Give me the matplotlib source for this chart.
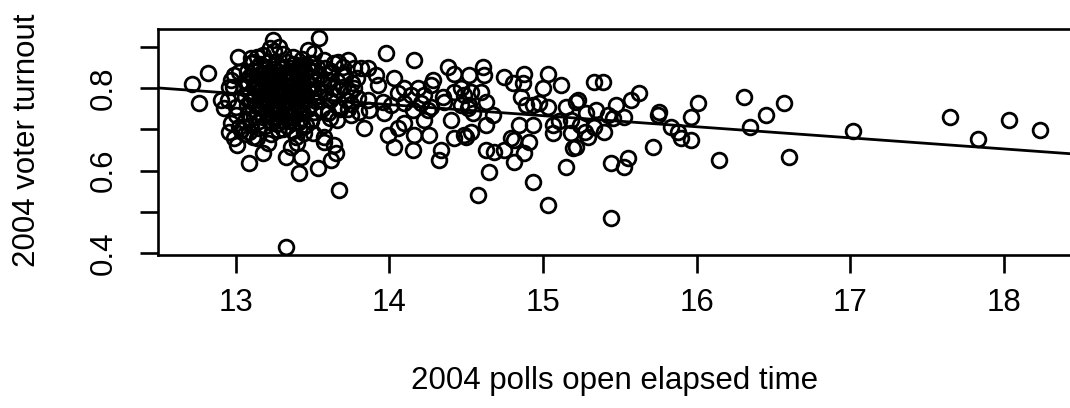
import matplotlib
matplotlib.use("Agg")
import numpy as np
import matplotlib.pyplot as plt

# precincts with polls open < 13.8 h (the dense early cluster)
elapsed_early = [
    12.816, 12.712, 12.762, 12.904, 12.925, 12.958, 12.958, 13.240, 13.012, 13.099,
    12.990, 12.979, 13.001, 13.023, 13.088, 12.990, 13.010, 13.088, 13.174, 13.327,
    13.327, 13.544, 13.467, 13.663, 13.728, 13.771, 13.693, 13.758, 13.750, 13.575,
    13.576, 13.446, 13.359, 13.424, 13.413, 13.533, 13.620, 13.652, 13.576, 13.674,
    13.283, 13.109, 13.511, 13.576, 13.641, 13.695, 12.969, 13.023, 12.947, 13.001,
    12.969, 13.034, 13.109, 13.207, 13.272, 13.392, 13.641, 13.674, 13.663, 13.598,
    13.62, 13.66, 13.70, 13.64, 13.72, 13.68, 13.61, 13.74, 13.71, 13.77,
    13.75, 13.66, 13.79, 13.73,
    13.15, 13.23, 13.31, 13.37, 13.44, 13.50, 13.14, 13.40, 13.06,
    13.18, 13.25, 13.31, 13.37, 13.43, 13.22, 13.14, 13.48,
    13.10, 13.16, 13.21, 13.27, 13.33, 13.38, 13.44, 13.50,
    13.13, 13.19, 13.24, 13.30, 13.36, 13.41, 13.47, 13.53, 13.58,
    13.07, 13.12, 13.17, 13.22, 13.28, 13.34, 13.39, 13.45, 13.51, 13.62,
    13.09, 13.15, 13.20, 13.26, 13.31, 13.37, 13.43, 13.48, 13.55,
    13.06, 13.11, 13.17, 13.23, 13.29, 13.35, 13.40, 13.46, 13.52, 13.60,
    13.08, 13.14, 13.19, 13.25, 13.32, 13.38, 13.44, 13.49, 13.57,
    13.05, 13.12, 13.17, 13.22, 13.28, 13.34, 13.41, 13.47, 13.53, 13.63,
    13.09, 13.15, 13.21, 13.26, 13.31, 13.37, 13.43, 13.50, 13.58,
    13.06, 13.12, 13.18, 13.24, 13.29, 13.35, 13.40, 13.46, 13.54,
    13.10, 13.16, 13.21, 13.27, 13.33, 13.39, 13.45, 13.52, 13.61,
    13.07, 13.13, 13.19, 13.25, 13.30, 13.36, 13.42, 13.48,
    13.11, 13.17, 13.23, 13.28, 13.34, 13.41, 13.47, 13.56,
    13.08, 13.14, 13.20, 13.26, 13.32, 13.38, 13.44, 13.51,
    13.12, 13.18, 13.24, 13.30, 13.36, 13.43,
    13.06, 13.15, 13.22, 13.29, 13.35, 13.41, 13.49,
    13.10, 13.19, 13.27, 13.33, 13.46,
    13.13, 13.20, 13.26, 13.32, 13.39, 13.45, 13.18, 13.29, 13.35, 13.24,
    13.41, 13.16, 13.31, 13.22, 13.37, 13.27, 13.12, 13.43, 13.33, 13.21,
]
turnout_early = [
    0.836, 0.809, 0.764, 0.771, 0.751, 0.803, 0.694, 0.916, 0.874, 0.872,
    0.831, 0.803, 0.735, 0.706, 0.694, 0.678, 0.662, 0.618, 0.642, 0.416,
    0.634, 0.922, 0.892, 0.864, 0.868, 0.848, 0.831, 0.812, 0.735, 0.711,
    0.682, 0.690, 0.658, 0.634, 0.594, 0.606, 0.626, 0.642, 0.670, 0.553,
    0.900, 0.864, 0.884, 0.868, 0.860, 0.852, 0.819, 0.839, 0.771, 0.755,
    0.715, 0.698, 0.682, 0.666, 0.698, 0.682, 0.662, 0.795, 0.755, 0.739,
    0.842, 0.818, 0.803, 0.781, 0.772, 0.748, 0.728, 0.789, 0.829, 0.801,
    0.762, 0.722, 0.823, 0.748,
    0.703, 0.689, 0.702, 0.697, 0.706, 0.692, 0.679, 0.668, 0.688,
    0.880, 0.889, 0.882, 0.876, 0.870, 0.897, 0.874, 0.861,
    0.861, 0.858, 0.863, 0.857, 0.862, 0.859, 0.856, 0.860,
    0.849, 0.852, 0.847, 0.851, 0.848, 0.853, 0.846, 0.850, 0.849,
    0.838, 0.841, 0.836, 0.842, 0.839, 0.837, 0.843, 0.838, 0.840, 0.836,
    0.829, 0.832, 0.827, 0.831, 0.828, 0.833, 0.829, 0.826, 0.830,
    0.818, 0.821, 0.819, 0.822, 0.817, 0.820, 0.823, 0.818, 0.821, 0.819,
    0.811, 0.808, 0.812, 0.809, 0.807, 0.810, 0.813, 0.808, 0.811,
    0.799, 0.802, 0.797, 0.801, 0.798, 0.803, 0.799, 0.796, 0.800, 0.801,
    0.789, 0.792, 0.788, 0.791, 0.787, 0.790, 0.793, 0.788, 0.791,
    0.778, 0.781, 0.779, 0.776, 0.782, 0.778, 0.780, 0.777, 0.781,
    0.768, 0.771, 0.767, 0.772, 0.769, 0.766, 0.770, 0.768, 0.771,
    0.759, 0.757, 0.761, 0.758, 0.762, 0.756, 0.760, 0.758,
    0.748, 0.751, 0.747, 0.752, 0.749, 0.746, 0.750, 0.748,
    0.739, 0.741, 0.737, 0.740, 0.738, 0.742, 0.739, 0.741,
    0.729, 0.731, 0.728, 0.732, 0.730, 0.727,
    0.719, 0.721, 0.718, 0.722, 0.720, 0.717, 0.721,
    0.711, 0.709, 0.712, 0.708, 0.710,
    0.815, 0.806, 0.794, 0.784, 0.775, 0.786, 0.765, 0.744, 0.826, 0.834,
    0.804, 0.755, 0.766, 0.786, 0.796, 0.745, 0.774, 0.814, 0.733, 0.823,
]

# precincts between 13.8 h and 15.2 h
elapsed_mid = [
    13.978, 14.162, 14.379, 14.423, 14.032, 14.281, 14.271, 13.815, 13.858, 13.913,
    13.923, 14.097, 14.184, 14.466, 14.053, 14.141, 14.227, 14.346, 14.423, 14.488,
    13.793, 13.858, 13.956, 14.010, 14.097, 14.206, 14.271, 14.357, 14.466, 13.804,
    13.869, 13.967, 14.151, 14.249, 14.509, 14.227, 14.401, 14.097, 13.837, 14.053,
    13.988, 14.162, 14.260, 14.423, 14.488, 14.032, 14.151, 14.336, 14.325,
    14.607, 14.618, 14.520, 14.748, 14.802, 14.878, 14.867, 15.030, 15.117, 14.997,
    14.857, 14.889, 14.932, 14.976, 15.030, 15.150, 15.215, 14.531, 14.596, 14.629,
    14.520, 14.542, 14.672, 14.629, 14.846, 14.932, 15.063, 15.106, 15.182, 15.063,
    15.182, 14.531, 14.499, 14.792, 14.813, 14.911, 14.629, 14.683, 14.748, 14.878,
    14.813, 15.193, 15.150, 14.650, 14.932, 14.574, 15.030,
]
turnout_mid = [
    0.884, 0.868, 0.852, 0.833, 0.824, 0.819, 0.807, 0.848, 0.848, 0.831,
    0.807, 0.799, 0.799, 0.799, 0.787, 0.783, 0.783, 0.779, 0.791, 0.783,
    0.775, 0.771, 0.767, 0.759, 0.763, 0.763, 0.755, 0.767, 0.759, 0.743,
    0.747, 0.739, 0.747, 0.747, 0.751, 0.723, 0.723, 0.715, 0.703, 0.703,
    0.686, 0.686, 0.686, 0.678, 0.686, 0.658, 0.650, 0.650, 0.626,
    0.852, 0.831, 0.831, 0.827, 0.811, 0.835, 0.811, 0.835, 0.807, 0.799,
    0.779, 0.759, 0.759, 0.763, 0.755, 0.755, 0.767, 0.791, 0.791, 0.767,
    0.759, 0.739, 0.735, 0.711, 0.711, 0.711, 0.711, 0.719, 0.723, 0.690,
    0.690, 0.694, 0.682, 0.678, 0.674, 0.670, 0.650, 0.646, 0.650, 0.642,
    0.622, 0.654, 0.610, 0.597, 0.573, 0.541, 0.517,
]

# precincts open longer than 15.2 h
elapsed_late = [
    15.334, 15.388, 15.627, 15.573, 15.225, 15.475, 15.345, 15.280, 15.421, 15.453,
    15.529, 15.757, 15.746, 15.966, 15.238, 15.270, 15.334, 15.399, 15.290, 15.215,
    15.833, 15.876, 15.898, 15.964, 15.714, 15.443, 15.551, 15.529, 15.443,
    16.006, 16.311, 16.452, 16.566, 16.350, 16.148, 16.599, 17.016, 17.650, 17.834,
    18.036, 18.236,
]
turnout_late = [
    0.815, 0.815, 0.787, 0.771, 0.771, 0.759, 0.747, 0.739, 0.735, 0.727,
    0.731, 0.743, 0.735, 0.731, 0.711, 0.694, 0.706, 0.694, 0.682, 0.658,
    0.706, 0.694, 0.678, 0.674, 0.658, 0.618, 0.630, 0.610, 0.485,
    0.763, 0.779, 0.735, 0.763, 0.706, 0.626, 0.634, 0.696, 0.731, 0.676,
    0.723, 0.698,
]

# lm(turnout ~ elapsed) coefficients
fit_intercept = 1.135
fit_slope = -0.0268

x = np.array(elapsed_early + elapsed_mid + elapsed_late)
y = np.array(turnout_early + turnout_mid + turnout_late)

plt.rcParams["font.family"] = ["Liberation Sans", "DejaVu Sans"]
plt.rcParams["font.size"] = 22.5

fig = plt.figure(figsize=(10.7, 4.08), dpi=100)
ax = fig.add_axes([157.5 / 1070, 153 / 408, 915.5 / 1070, 225.7 / 408])

ax.plot(x, y, "o", ls="none", mfc="none", mec="black", ms=10.6, mew=2.0)
ax.axline((0, fit_intercept), slope=fit_slope, color="black", lw=2.0)

ax.set_xlim(12.49, 18.45)
ax.set_ylim(0.396, 0.942)
ax.set_xticks([13, 14, 15, 16, 17, 18])
ax.set_yticks([0.4, 0.5, 0.6, 0.7, 0.8, 0.9])
ax.set_yticklabels(["0.4", "", "0.6", "", "0.8", ""])
for lab in ax.get_yticklabels():
    lab.set_rotation(90)
    lab.set_va("center")

for s in ax.spines.values():
    s.set_linewidth(1.9)
ax.tick_params(direction="out", length=13, width=1.9, colors="black")
ax.tick_params(axis="x", pad=11)
ax.tick_params(axis="y", pad=15)

fig.text(615 / 1070, 1 - 381 / 408, "2004 polls open elapsed time",
         ha="center", va="center")
fig.text(26.7 / 1070, 1 - 140 / 408, "2004 voter turnout",
         ha="center", va="center", rotation=90)

fig.savefig("out.png", dpi=100)
